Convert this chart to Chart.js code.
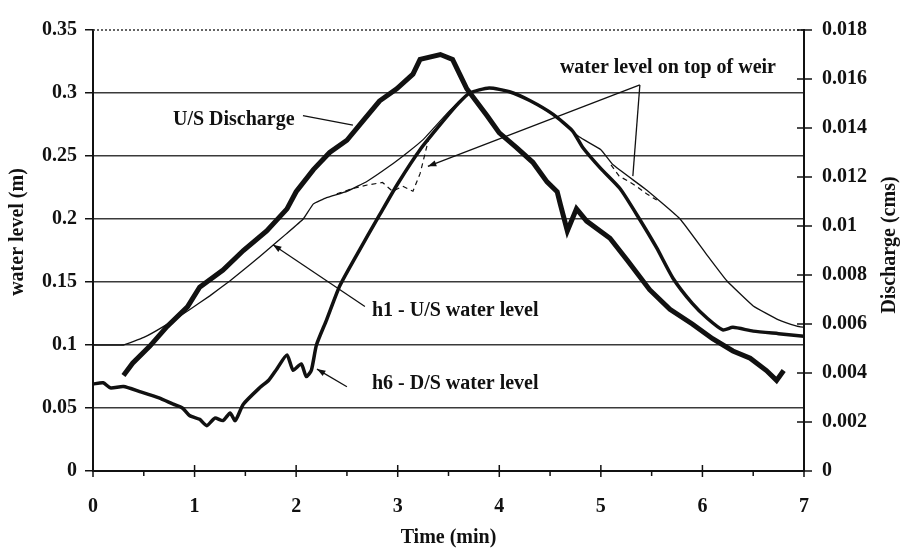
<!DOCTYPE html>
<html>
<head>
<meta charset="utf-8">
<script src="https://cdn.jsdelivr.net/npm/chart.js@4.4.0/dist/chart.umd.min.js"></script>
<style>
body{margin:0;background:#fff;}
#box{width:903px;height:552px;}
</style>
</head>
<body>
<div id="box"><canvas id="canvas" width="903" height="552"></canvas></div>
<script>
// U/S discharge (cms, right axis)
const timeUS=[0.3,0.39,0.56,0.73,0.93,1.05,1.28,1.48,1.71,1.91,2.0,2.17,2.33,2.5,2.66,2.82,2.99,3.15,3.22,3.42,3.54,3.61,3.68,3.88,4.0,4.17,4.33,4.47,4.57,4.6,4.67,4.76,4.86,5.09,5.26,5.48,5.68,5.9,6.1,6.3,6.47,6.63,6.73,6.8];
const usDischarge=[0.0039,0.0044,0.0051,0.0059,0.0067,0.0075,0.0082,0.0090,0.0098,0.0107,0.0114,0.0123,0.0130,0.0135,0.0143,0.0151,0.0156,0.0162,0.0168,0.0170,0.0168,0.0162,0.0156,0.0145,0.0138,0.0132,0.0126,0.0118,0.0114,0.0109,0.0098,0.0107,0.0102,0.0095,0.0086,0.0074,0.0066,0.0060,0.0054,0.0049,0.0046,0.0041,0.0037,0.0041];

// h1 - U/S water level (m)
const timeH1=[0,0.3,0.5,0.7,0.95,1.15,1.35,1.55,1.74,1.9,2.07,2.17,2.3,2.5,2.7,2.92,3.1,3.25,3.5,3.7,3.9,4.1,4.3,4.53,4.79,5.0,5.12,5.45,5.78,6.04,6.24,6.5,6.75,6.93,7.0];
const h1Level=[0.1,0.1,0.106,0.115,0.128,0.139,0.151,0.164,0.177,0.188,0.2,0.212,0.217,0.222,0.23,0.242,0.253,0.263,0.285,0.3,0.304,0.301,0.294,0.283,0.265,0.255,0.243,0.223,0.2,0.172,0.151,0.131,0.12,0.115,0.114];

// h6 - D/S water level (m)
const timeH6=[0,0.1,0.17,0.3,0.46,0.65,0.79,0.88,0.95,1.05,1.12,1.2,1.28,1.35,1.4,1.48,1.64,1.73,1.81,1.91,1.97,2.05,2.1,2.15,2.2,2.3,2.43,2.6,2.82,3.0,3.22,3.45,3.6,3.71,3.9,4.1,4.3,4.53,4.72,4.82,5.0,5.19,5.38,5.55,5.71,5.9,6.05,6.2,6.3,6.5,6.75,7.0];
const h6Level=[0.069,0.07,0.066,0.067,0.063,0.058,0.053,0.05,0.044,0.041,0.036,0.042,0.04,0.046,0.04,0.053,0.066,0.072,0.081,0.092,0.08,0.085,0.075,0.08,0.1,0.12,0.147,0.172,0.203,0.228,0.255,0.278,0.292,0.3,0.304,0.301,0.294,0.283,0.27,0.257,0.24,0.224,0.2,0.177,0.153,0.133,0.121,0.112,0.114,0.111,0.109,0.107];

// water level on top of weir (m), only where it leaves the h1 curve
const timeWeir=[2.4,2.55,2.7,2.85,2.95,3.05,3.15,3.22,3.3,null,5.1,5.18,5.27,5.35,5.45,5.55];
const weirLevel=[0.22,0.224,0.227,0.229,0.222,0.226,0.222,0.236,0.262,null,0.243,0.234,0.23,0.226,0.22,0.215];

const xTicks=[0,1,2,3,4,5,6,7];
const levelTicks=[0,0.05,0.1,0.15,0.2,0.25,0.3,0.35];
const dischargeTicks=[0,0.002,0.004,0.006,0.008,0.01,0.012,0.014,0.016,0.018];

const serif="'Liberation Serif','Times New Roman',serif";
const ink="#111";

function pairs(xs,ys){
    return xs.map((x,i)=>x===null?{x:null,y:null}:{x:x,y:ys[i]});
}

const extras={
    id:"extras",
    afterDraw(chart){
        const c=chart.ctx;
        const xs=chart.scales.x;
        const ys=chart.scales.y;
        const y1=chart.scales.y1;
        const area=chart.chartArea;
        c.save();
        // dotted top line
        c.strokeStyle="#333";
        c.lineWidth=1.5;
        c.setLineDash([2,2]);
        c.beginPath();
        c.moveTo(area.left,ys.getPixelForValue(0.35));
        c.lineTo(area.right,ys.getPixelForValue(0.35));
        c.stroke();
        c.setLineDash([]);
        // crossing ticks on x and right axis
        c.strokeStyle=ink;
        c.lineWidth=1.5;
        for(let t=0;t<=7.001;t+=0.5){
            const px=xs.getPixelForValue(t);
            const major=Math.abs(t-Math.round(t))<0.01;
            c.beginPath();
            c.moveTo(px,area.bottom+(major?6:5));
            c.lineTo(px,area.bottom-(major?6:0));
            c.stroke();
        }
        dischargeTicks.forEach(v=>{
            const py=y1.getPixelForValue(v);
            c.beginPath();
            c.moveTo(area.right-7,py);
            c.lineTo(area.right+8,py);
            c.stroke();
        });
        // annotations
        c.fillStyle=ink;
        c.font="bold 20px "+serif;
        c.textBaseline="alphabetic";
        const P=(x,y)=>[xs.getPixelForValue(x),ys.getPixelForValue(y)];
        function text(s,x,y){
            const p=P(x,y);
            c.fillText(s,p[0],p[1]);
        }
        function line(a,b,head){
            const p=P(a[0],a[1]);
            const q=P(b[0],b[1]);
            c.lineWidth=1.3;
            c.beginPath();
            c.moveTo(p[0],p[1]);
            c.lineTo(q[0],q[1]);
            c.stroke();
            if(head){
                const ang=Math.atan2(q[1]-p[1],q[0]-p[0]);
                c.beginPath();
                c.moveTo(q[0],q[1]);
                c.lineTo(q[0]-9*Math.cos(ang-0.35),q[1]-9*Math.sin(ang-0.35));
                c.lineTo(q[0]-9*Math.cos(ang+0.35),q[1]-9*Math.sin(ang+0.35));
                c.closePath();
                c.fill();
            }
        }
        text("U/S Discharge",0.787,0.275);
        line([2.067,0.282],[2.559,0.2745],false);
        text("water level on top of weir",4.597,0.3157);
        line([5.384,0.3064],[3.297,0.2418],true);
        line([5.384,0.3064],[5.315,0.234],false);
        text("h1 - U/S water level",2.746,0.1229);
        line([2.677,0.1306],[1.772,0.1796],true);
        text("h6 - D/S water level",2.746,0.0653);
        line([2.5,0.0669],[2.205,0.0809],true);
        // axis titles
        c.font="bold 20px "+serif;
        c.textAlign="center";
        c.textBaseline="middle";
        c.fillText("Time (min)",(area.left+area.right)/2,538);
        c.save();
        c.translate(18,232);
        c.rotate(-Math.PI/2);
        c.fillText("water level (m)",0,0);
        c.restore();
        c.save();
        c.translate(890,245);
        c.rotate(-Math.PI/2);
        c.fillText("Discharge (cms)",0,0);
        c.restore();
        c.restore();
    }
};

const tickFont={family:serif,size:20,weight:"bold"};

new Chart(document.getElementById("canvas"),{
    type:"line",
    data:{
        datasets:[
            {
                label:"U/S Discharge",
                data:pairs(timeUS,usDischarge),
                yAxisID:"y1",
                borderColor:ink,
                borderWidth:5,
                pointRadius:0,
                tension:0
            },
            {
                label:"h1 - U/S water level",
                data:pairs(timeH1,h1Level),
                yAxisID:"y",
                borderColor:ink,
                borderWidth:1.3,
                pointRadius:0,
                tension:0.1
            },
            {
                label:"h6 - D/S water level",
                data:pairs(timeH6,h6Level),
                yAxisID:"y",
                borderColor:ink,
                borderWidth:3.5,
                pointRadius:0,
                tension:0.2
            },
            {
                label:"water level on top of weir",
                data:pairs(timeWeir,weirLevel),
                yAxisID:"y",
                borderColor:ink,
                borderWidth:1.2,
                borderDash:[5,4],
                pointRadius:0,
                spanGaps:false,
                tension:0
            }
        ]
    },
    options:{
        responsive:false,
        animation:false,
        layout:{padding:{top:20,left:0,right:0,bottom:0}},
        plugins:{
            legend:{display:false},
            tooltip:{enabled:false}
        },
        scales:{
            x:{
                type:"linear",
                min:0,
                max:7,
                afterBuildTicks:s=>{s.ticks=xTicks.map(v=>({value:v}));},
                afterFit:s=>{s.height=81;},
                ticks:{
                    padding:24,
                    color:ink,
                    font:tickFont
                },
                grid:{display:false,drawTicks:false},
                border:{color:ink,width:2}
            },
            y:{
                position:"left",
                min:0,
                max:0.35,
                afterBuildTicks:s=>{s.ticks=levelTicks.map(v=>({value:v}));},
                afterFit:s=>{s.width=93;},
                ticks:{
                    padding:8,
                    color:ink,
                    font:tickFont,
                    callback:v=>String(+v.toFixed(3))
                },
                grid:{
                    color:ctx=>ctx.tick&&ctx.tick.value>=0.349?"rgba(0,0,0,0)":"#3a3a3a",
                    lineWidth:1.5,
                    tickLength:8,
                    tickColor:ink
                },
                border:{color:ink,width:2}
            },
            y1:{
                position:"right",
                min:0,
                max:0.018,
                afterBuildTicks:s=>{s.ticks=dischargeTicks.map(v=>({value:v}));},
                afterFit:s=>{s.width=99;},
                ticks:{
                    padding:18,
                    color:ink,
                    font:tickFont,
                    callback:v=>String(+v.toFixed(4))
                },
                grid:{drawOnChartArea:false,drawTicks:false},
                border:{color:ink,width:2}
            }
        }
    },
    plugins:[extras]
});
</script>
</body>
</html>
